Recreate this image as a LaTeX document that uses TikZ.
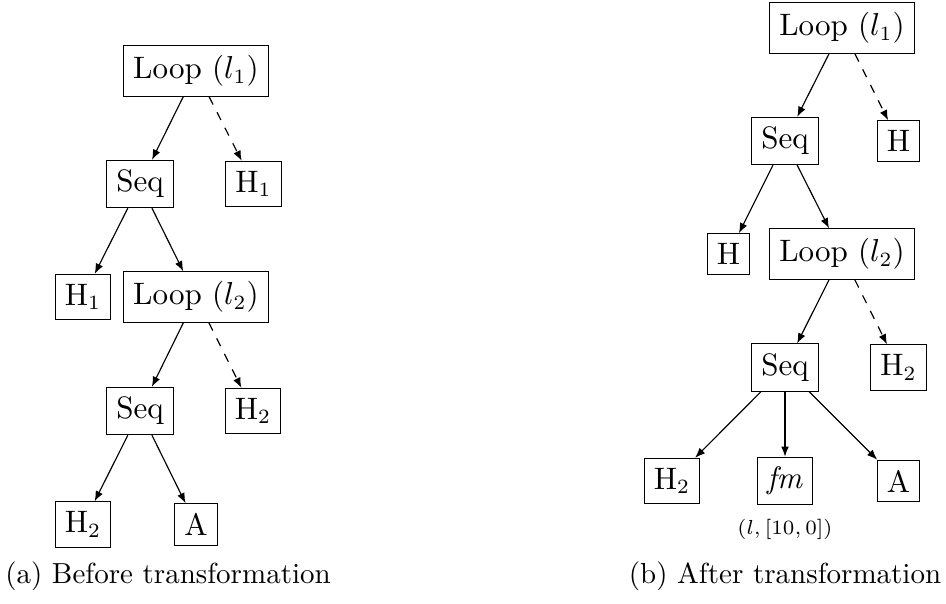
\documentclass[tikz,border=0pt]{standalone}
\usetikzlibrary{arrows.meta}
\begin{document}
\begin{tikzpicture}[x=0.3448pt,y=-0.3448pt,
  box/.style={draw,inner sep=0.333em,font=\fontsize{10.7}{12.8}\selectfont},
  edge/.style={-{Latex[length=3.5pt,width=2.7pt]}},
  dedge/.style={edge,dashed},
  capt/.style={font=\fontsize{10}{12}\selectfont}]
\useasboundingbox (0,0) rectangle (946,603);
% (a)
\node[box] (aL1) at (196,71) {Loop ($l_1$)};
\node[box] (aS1) at (140,184) {Seq};
\node[box] (aH1r) at (253.5,184) {H$_1$};
\node[box] (aH1l) at (83,297) {H$_1$};
\node[box] (aL2) at (196,297) {Loop ($l_2$)};
\node[box] (aS2) at (140,411) {Seq};
\node[box] (aH2r) at (253,411) {H$_2$};
\node[box] (aH2l) at (83,524.5) {H$_2$};
\node[box] (aA) at (196,524.5) {A};
\draw[edge] (aL1) -- (aS1);
\draw[dedge] (aL1) -- (aH1r);
\draw[edge] (aS1) -- (aH1l);
\draw[edge] (aS1) -- (aL2);
\draw[edge] (aL2) -- (aS2);
\draw[dedge] (aL2) -- (aH2r);
\draw[edge] (aS2) -- (aH2l);
\draw[edge] (aS2) -- (aA);
\node[capt] (capa) at (168,576) {(a) Before transformation};
% (b)
\node[box] (bL1) at (842,28) {Loop ($l_1$)};
\node[box] (bS1) at (785,141) {Seq};
\node[box] (bHr) at (898.5,141) {H};
\node[box] (bHl) at (728.5,254) {H};
\node[box] (bL2) at (842,254) {Loop ($l_2$)};
\node[box] (bS2) at (785,367.5) {Seq};
\node[box] (bH2r) at (898.5,367.5) {H$_2$};
\node[box] (bH2l) at (672,481) {H$_2$};
\node[box] (bfm) at (785,481) {\textit{fm}};
\node[box] (bA) at (898.5,481) {A};
\node[font=\fontsize{7}{8.5}\selectfont] (blbl) at (785,529) {$(l,[10,0])$};
\draw[edge] (bL1) -- (bS1);
\draw[dedge] (bL1) -- (bHr);
\draw[edge] (bS1) -- (bHl);
\draw[edge] (bS1) -- (bL2);
\draw[edge] (bL2) -- (bS2);
\draw[dedge] (bL2) -- (bH2r);
\draw[edge] (bS2) -- (bH2l);
\draw[edge] (bS2) -- (bfm);
\draw[edge] (bS2) -- (bA);
\node[capt] (capb) at (785,576) {(b) After transformation};
\end{tikzpicture}
\end{document}
